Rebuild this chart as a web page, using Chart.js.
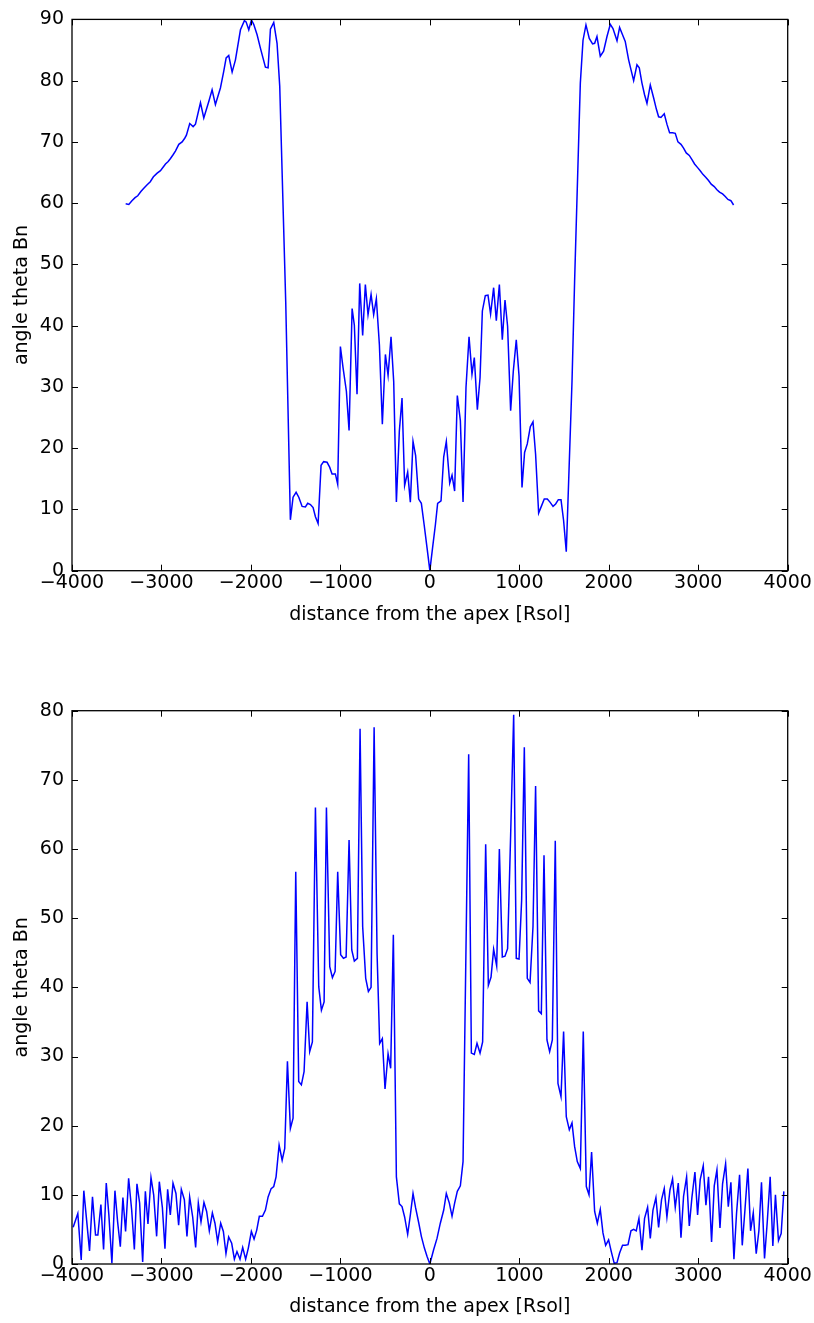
<!DOCTYPE html>
<html>
<head>
<meta charset="utf-8">
<script src="https://cdn.jsdelivr.net/npm/chart.js@4/dist/chart.umd.min.js"></script>
<style>
  html, body { margin: 0; padding: 0; background: #fff; }
  #wrap { position: relative; width: 814px; height: 1323px; }
  canvas { position: absolute; left: 0; }
</style>
</head>
<body>
<div id="wrap">
  <canvas id="thetaUpper" width="814" height="660" style="top:0"></canvas>
  <canvas id="thetaLower" width="814" height="663" style="top:660px"></canvas>
</div>
<script>
// Tick positions
const xTicks = [-4000, -3000, -2000, -1000, 0, 1000, 2000, 3000, 4000];
const yTicksUpper = [0, 10, 20, 30, 40, 50, 60, 70, 80, 90];
const yTicksLower = [0, 10, 20, 30, 40, 50, 60, 70, 80];

// Upper panel: distance from the apex [Rsol] and angle theta Bn [deg]
const distUpper = [
  -3400, -3365, -3330, -3295, -3265, -3230, -3200, -3160, -3125, -3090,
  -3048, -3011, -2980, -2955, -2925, -2899, -2870, -2844, -2806, -2769,
  -2740, -2721, -2684, -2646, -2620, -2564, -2527, -2471, -2434, -2397,
  -2341, -2304, -2277, -2248, -2210, -2173, -2117, -2073, -2054, -2024,
  -1994, -1969, -1931, -1894, -1838, -1808, -1782, -1745, -1708, -1678,
  -1611, -1559, -1529, -1495, -1465, -1428, -1391, -1365, -1335, -1305,
  -1279, -1249, -1216, -1187, -1149, -1120, -1093, -1056, -1030, -1000,
  -970, -933, -903, -869, -844, -814, -784, -751, -721, -691,
  -657, -628, -598, -564, -531, -497, -467, -434, -404, -374,
  -341, -311, -282, -248, -218, -188, -159, -125, -95, -62,
  -31, 0, 31, 62, 87, 125, 155, 184, 222, 248,
  277, 307, 341, 371, 404, 438, 471, 497, 531, 561,
  587, 620, 650, 679, 713, 743, 777, 810, 840, 869,
  903, 933, 966, 997, 1030, 1059, 1089, 1123, 1153, 1182,
  1216, 1246, 1279, 1313, 1343, 1377, 1406, 1436, 1466, 1495,
  1525, 1589, 1618, 1682, 1712, 1745, 1782, 1819, 1842, 1868,
  1905, 1942, 1980, 2017, 2047, 2092, 2121, 2148, 2184, 2222,
  2248, 2278, 2315, 2341, 2371, 2400, 2427, 2464, 2501, 2531,
  2557, 2583, 2620, 2650, 2680, 2713, 2743, 2773, 2807, 2836,
  2866, 2900, 2930, 2959, 2993, 3022, 3052, 3086, 3115, 3145,
  3179, 3209, 3238, 3272, 3302, 3332, 3365, 3395
];
const thetaUpper = [
  59.9, 59.8, 60.4, 60.9, 61.2, 61.9, 62.4, 63.0, 63.5, 64.3,
  64.9, 65.3, 65.9, 66.4, 66.8, 67.3, 67.9, 68.5, 69.6, 70.0,
  70.6, 71.1, 73.0, 72.5, 72.9, 76.4, 73.9, 76.6, 78.5, 76.1,
  78.8, 81.5, 83.7, 84.1, 81.4, 83.4, 88.3, 89.8, 89.6, 88.3,
  89.9, 89.2, 87.5, 85.3, 82.2, 82.1, 88.4, 89.5, 86.1, 79.1,
  43.9, 8.3, 12.0, 12.8, 12.0, 10.5, 10.4, 11.0, 10.8, 10.3,
  8.8, 7.7, 17.2, 17.8, 17.7, 16.9, 15.8, 15.8, 14.1, 36.6,
  33.1, 29.3, 22.9, 42.8, 40.1, 28.8, 46.9, 38.4, 46.7, 41.8,
  45.1, 41.8, 44.4, 36.9, 23.9, 35.3, 31.9, 38.2, 30.9, 11.2,
  22.8, 28.2, 13.9, 16.1, 11.2, 21.1, 18.8, 11.7, 11.0, 7.3,
  3.7, 0.0, 3.8, 7.5, 11.0, 11.4, 18.6, 21.1, 14.3, 15.6,
  13.0, 28.6, 24.5, 11.2, 29.9, 38.2, 32.1, 34.8, 26.3, 31.5,
  42.4, 44.9, 45.0, 41.9, 46.2, 40.8, 46.7, 37.7, 44.2, 39.9,
  26.1, 32.6, 37.7, 31.8, 13.6, 19.3, 20.7, 23.5, 24.3, 19.0,
  9.4, 10.5, 11.7, 11.7, 11.2, 10.5, 10.9, 11.6, 11.6, 8.2,
  3.1, 30.9, 47.2, 79.6, 86.6, 89.1, 86.9, 86.0, 86.1, 87.2,
  84.0, 84.8, 87.2, 89.2, 88.5, 86.5, 88.7, 87.7, 86.4, 83.4,
  81.8, 80.0, 82.6, 82.1, 79.6, 77.7, 76.3, 79.3, 77.2, 75.4,
  74.1, 74.0, 74.6, 72.9, 71.5, 71.5, 71.4, 70.0, 69.6, 69.0,
  68.2, 67.8, 67.1, 66.4, 65.8, 65.3, 64.7, 64.2, 63.7, 63.1,
  62.7, 62.2, 61.8, 61.5, 61.1, 60.6, 60.4, 59.7
];

// Lower panel: distance from the apex [Rsol] and angle theta Bn [deg]
const distLower = [
  -3987, -3935, -3897, -3868, -3804, -3771, -3737, -3711, -3677, -3647,
  -3617, -3588, -3554, -3520, -3490, -3460, -3431, -3401, -3367, -3333,
  -3303, -3274, -3244, -3210, -3180, -3151, -3117, -3087, -3054, -3024,
  -2990, -2961, -2931, -2901, -2871, -2838, -2808, -2778, -2744, -2715,
  -2685, -2651, -2618, -2588, -2558, -2525, -2495, -2465, -2431, -2402,
  -2372, -2338, -2308, -2279, -2249, -2215, -2185, -2156, -2122, -2092,
  -2059, -2029, -1995, -1965, -1935, -1906, -1871, -1838, -1808, -1774,
  -1745, -1719, -1685, -1651, -1622, -1592, -1559, -1529, -1499, -1466,
  -1436, -1406, -1372, -1343, -1313, -1279, -1242, -1212, -1182, -1156,
  -1119, -1089, -1059, -1030, -997, -966, -936, -903, -873, -844,
  -810, -780, -751, -717, -687, -657, -623, -590, -561, -531,
  -501, -467, -438, -408, -374, -341, -311, -282, -248, -218,
  -188, -159, -125, -95, -61, -31, 0, 43, 80, 117,
  155, 184, 218, 248, 277, 307, 341, 371, 434, 464,
  497, 527, 561, 590, 624, 654, 684, 713, 747, 777,
  810, 840, 869, 903, 937, 966, 997, 1026, 1056, 1089,
  1120, 1153, 1182, 1216, 1246, 1276, 1309, 1339, 1369, 1402,
  1432, 1466, 1495, 1525, 1559, 1589, 1618, 1648, 1682, 1715,
  1749, 1779, 1808, 1842, 1872, 1905, 1935, 1965, 1998, 2028,
  2061, 2092, 2121, 2154, 2184, 2215, 2248, 2278, 2307, 2337,
  2371, 2400, 2434, 2464, 2494, 2527, 2557, 2590, 2620, 2650,
  2684, 2713, 2743, 2777, 2807, 2836, 2870, 2900, 2930, 2963,
  2993, 3022, 3056, 3086, 3115, 3149, 3179, 3209, 3243, 3272,
  3306, 3336, 3365, 3399, 3428, 3462, 3492, 3522, 3555, 3585,
  3615, 3648, 3678, 3707, 3741, 3771, 3804, 3834, 3863, 3897,
  3927, 3957
];
const thetaLower = [
  5.3, 7.3, 0.6, 10.6, 1.9, 9.7, 4.2, 4.2, 8.6, 2.1,
  11.7, 7.1, 0.1, 10.6, 6.1, 2.5, 9.6, 4.7, 12.4, 7.8,
  2.1, 11.6, 8.8, 0.3, 10.5, 5.8, 12.5, 10.0, 4.0, 11.9,
  8.2, 2.2, 10.8, 7.1, 11.7, 10.2, 5.6, 10.8, 9.3, 4.0,
  9.7, 6.8, 2.4, 8.8, 6.1, 8.9, 7.6, 4.8, 7.4, 5.9,
  3.2, 5.9, 4.7, 1.5, 3.9, 3.0, 0.7, 1.8, 0.7, 2.4,
  0.7, 2.3, 4.7, 3.6, 4.9, 6.9, 6.9, 7.8, 9.7, 10.9,
  11.2, 12.6, 17.2, 15.0, 16.7, 29.3, 19.6, 21.1, 56.7, 26.4,
  25.9, 27.8, 37.9, 30.7, 32.1, 66.0, 40.1, 36.7, 37.9, 66.0,
  43.0, 41.4, 42.3, 56.7, 44.7, 44.2, 44.4, 61.3, 45.4, 43.8,
  44.2, 77.4, 48.8, 41.3, 39.4, 40.0, 77.6, 44.9, 31.9, 32.6,
  25.3, 30.4, 28.3, 47.6, 12.6, 8.7, 8.3, 6.8, 4.3, 7.1,
  10.2, 8.1, 6.0, 4.0, 2.3, 1.1, 0.0, 2.1, 3.7, 5.9,
  7.8, 10.2, 8.8, 6.9, 8.8, 10.5, 11.3, 14.8, 73.7, 30.5,
  30.3, 31.9, 30.5, 32.1, 60.7, 40.3, 41.5, 45.5, 43.1, 60.0,
  44.4, 44.5, 45.6, 62.0, 79.4, 44.2, 44.1, 52.6, 74.7, 41.3,
  40.7, 48.8, 69.1, 36.6, 36.2, 59.1, 32.4, 30.7, 32.4, 61.2,
  26.1, 24.2, 33.6, 21.3, 19.4, 20.4, 17.0, 14.8, 13.8, 33.6,
  11.2, 10.0, 16.2, 7.6, 5.9, 7.9, 4.5, 2.7, 3.5, 1.8,
  0.1, 0.2, 1.6, 2.7, 2.7, 2.8, 4.8, 5.0, 4.8, 6.6,
  2.0, 6.6, 8.2, 3.7, 7.8, 9.6, 5.3, 9.3, 10.9, 6.8,
  10.7, 12.3, 8.2, 11.7, 3.8, 9.8, 12.6, 5.5, 9.7, 13.3,
  7.1, 12.2, 14.2, 8.5, 12.6, 3.2, 11.3, 13.6, 5.2, 11.6,
  14.5, 8.3, 11.8, 0.7, 7.3, 12.9, 2.7, 7.8, 13.8, 4.8,
  7.4, 1.5, 4.8, 11.8, 0.8, 6.0, 12.6, 2.6, 10.0, 3.4,
  4.4, 10.5
];

const FONT = 'DejaVu Sans';
const FONT_SIZE = 19;
Chart.defaults.font.family = FONT;
Chart.defaults.color = '#000';

const pairUp = (xs, ys) => xs.map((v, i) => ({ x: v, y: ys[i] }));
const signed = v => (v < 0 ? '\u2212' : '') + Math.abs(v);

// Black box round the plot area with inward tick marks on all four sides
const boxWithInnerTicks = {
  id: 'boxWithInnerTicks',
  afterDatasetsDraw(chart) {
    const { ctx, chartArea: a, scales: { x, y } } = chart;
    const len = 6;
    ctx.save();
    ctx.strokeStyle = '#000';
    ctx.lineWidth = 1;
    ctx.beginPath();
    x.ticks.forEach(t => {
      const px = Math.round(x.getPixelForValue(t.value)) + 0.5;
      ctx.moveTo(px, a.bottom); ctx.lineTo(px, a.bottom - len);
      ctx.moveTo(px, a.top); ctx.lineTo(px, a.top + len);
    });
    y.ticks.forEach(t => {
      const py = Math.round(y.getPixelForValue(t.value)) + 0.5;
      ctx.moveTo(a.left, py); ctx.lineTo(a.left + len, py);
      ctx.moveTo(a.right, py); ctx.lineTo(a.right - len, py);
    });
    ctx.stroke();
    ctx.lineWidth = 1.3;
    ctx.strokeRect(a.left, a.top, a.right - a.left, a.bottom - a.top);
    ctx.restore();
  }
};

function makePanel(canvasId, xs, ys, yMax, yTicks, pad, xAxisHeight, xTitlePad) {
  return new Chart(document.getElementById(canvasId), {
    type: 'scatter',
    data: {
      datasets: [{
        data: pairUp(xs, ys),
        showLine: true,
        borderColor: '#0000ff',
        borderWidth: 1.5,
        pointRadius: 0,
        tension: 0,
        fill: false
      }]
    },
    options: {
      responsive: false,
      animation: false,
      events: [],
      layout: { padding: pad },
      plugins: { legend: { display: false }, tooltip: { enabled: false } },
      scales: {
        x: {
          type: 'linear',
          min: xTicks[0],
          max: xTicks[xTicks.length - 1],
          afterBuildTicks: s => { s.ticks = xTicks.map(v => ({ value: v })); },
          afterFit: s => { s.height = xAxisHeight; },
          grid: { display: false, drawTicks: false },
          border: { display: false },
          ticks: { padding: 1, maxRotation: 0, autoSkip: false, callback: signed, font: { size: FONT_SIZE }, color: '#000' },
          title: { display: true, text: 'distance from the apex [Rsol]', font: { size: FONT_SIZE }, color: '#000', padding: { top: 0, bottom: xTitlePad } }
        },
        y: {
          type: 'linear',
          min: 0,
          max: yMax,
          afterBuildTicks: s => { s.ticks = yTicks.map(v => ({ value: v })); },
          afterFit: s => { s.width = 72; },
          grid: { display: false, drawTicks: false },
          border: { display: false },
          ticks: { padding: 8, callback: signed, font: { size: FONT_SIZE }, color: '#000' },
          title: { display: true, text: 'angle theta Bn', font: { size: FONT_SIZE }, color: '#000', padding: { top: 10.6, bottom: 0 } }
        }
      }
    },
    plugins: [boxWithInnerTicks]
  });
}

makePanel('thetaUpper', distUpper, thetaUpper, 90, yTicksUpper,
  { top: 16, right: 26.3, left: 0, bottom: 0 }, 89.3, 33.6);
makePanel('thetaLower', distLower, thetaLower, 80, yTicksLower,
  { top: 50.7, right: 26.3, left: 0, bottom: 0 }, 59, 4.6);
</script>
</body>
</html>
